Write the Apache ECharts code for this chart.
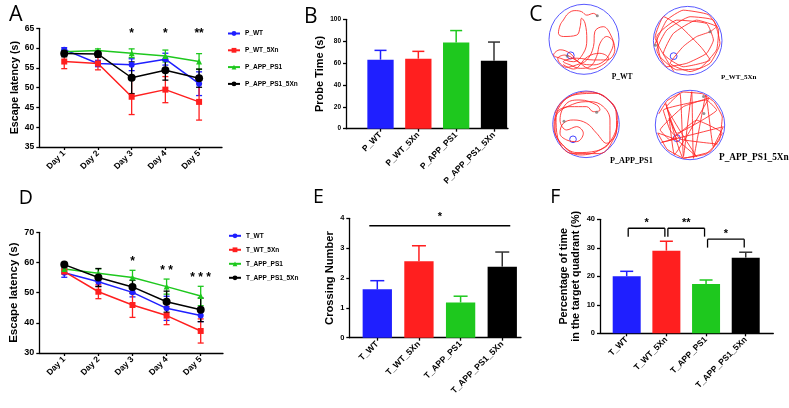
<!DOCTYPE html>
<html><head><meta charset="utf-8">
<script src="https://cdn.jsdelivr.net/npm/echarts@6/dist/echarts.min.js"></script>
<style>html,body{margin:0;padding:0;background:#fff}#c{width:789px;height:408px}</style>
</head><body><div id="c"></div>
<script>
// ---------------- DATA ----------------
const days = ['Day 1','Day 2','Day 3','Day 4','Day 5'];
const probeGroups = ['P_WT','P_WT_5Xn','P_APP_PS1','P_APP_PS1_5Xn'];
const trainGroups = ['T_WT','T_WT_5Xn','T_APP_PS1','T_APP_PS1_5Xn'];

// Panel A: probe-phase escape latency (s), mean and SEM
const pWT        = [59.6, 56.1, 55.8, 57.2, 51.0];
const pWTErr     = [0.5, 0.8, 1.5, 1.5, 3.0];
const pWT5Xn     = [56.6, 56.1, 47.7, 49.5, 46.4];
const pWT5XnErr  = [1.8, 1.6, 4.5, 3.3, 4.6];
const pAPP       = [59.1, 59.4, 58.7, 58.0, 56.6];
const pAPPErr    = [0.4, 0.4, 1.1, 1.5, 2.0];
const pAPP5Xn    = [58.6, 58.5, 52.5, 54.4, 52.4];
const pAPP5XnErr = [0.8, 0.8, 4.0, 2.5, 2.3];
const starsA     = ['', '', '*', '*', '**'];

// Panel B: probe time (s)
const probeTime    = [63.1, 64.0, 78.7, 62.2];
const probeTimeErr = [8.5, 6.7, 11.0, 17.0];

// Panel D: training escape latency (s)
const tWT        = [56.6, 53.6, 50.1, 44.8, 42.4];
const tWTErr     = [1.5, 1.5, 1.5, 4.0, 2.0];
const tWT5Xn     = [57.0, 50.3, 45.9, 42.4, 37.3];
const tWT5XnErr  = [0.8, 2.3, 4.1, 3.0, 4.0];
const tAPP       = [57.8, 56.4, 55.0, 52.0, 48.9];
const tAPPErr    = [0.5, 1.5, 2.4, 2.5, 3.2];
const tAPP5Xn    = [59.3, 55.0, 51.9, 47.0, 44.3];
const tAPP5XnErr = [0.5, 3.0, 2.2, 3.5, 3.9];
const starsD     = ['', '', '*', '* *', '* * *'];

// Panel E: crossing number
const crossing    = [1.62, 2.56, 1.18, 2.38];
const crossingErr = [0.29, 0.52, 0.21, 0.49];
const sigE = [[0, 3, '*']];

// Panel F: percentage of time in target quadrant (%)
const quadrant    = [20.0, 29.0, 17.3, 26.55];
const quadrantErr = [1.75, 3.3, 1.4, 1.9];
const sigF = [[0, 1, '*'], [1, 2, '**'], [2, 3, '*']];

// Panel C: swim trajectories (arena units, radius 100, y up)
const trackLabels = ['P_WT', 'P_WT_5Xn', 'P_APP_PS1', 'P_APP_PS1_5Xn'];
const platforms = [[-38,-46], [-41,-45], [-39,-45], [-38,-38]];
const startDots = [[[38,67],[-48,-48]], [[65,26],[-94,-13]], [[32,36],[-66,9]], [[39,82],[40,33]]];
const trackWT = [[38,67],[27,74],[8,69],[-7,79],[-26,82],[-45,74],[-59,55],[-68,41],[-73,17],[-59,8],[-21,12],[-11,36],[-7,60],[3,46],[8,-2],[-2,-40],[-30,-64],[-68,-54],[-87,-45],[-68,-30],[-40,-40],[-11,-68],[27,-73],[55,-64],[74,-40],[84,-11],[65,8],[46,-11],[36,-49],[17,-78],[-11,-83],[-40,-73],[-59,-64],[-21,-54],[27,-59],[65,-59],[88,-30],[74,17],[55,36],[31,22],[27,-21],[8,-59],[-21,-73],[-50,-80],[-75,-55],[-55,-45],[-20,-62],[20,-85],[50,-75],[70,-55],[45,-40],[10,-50],[-30,-85],[-60,-72]];
const trackWT5Xn = [[-97,-13],[-61,60],[-13,89],[60,76],[90,30],[84,-27],[36,-80],[-32,-85],[-80,-47],[-90,12],[-32,60],[55,50],[75,2],[55,-37],[-3,-66],[-61,-76],[-90,-27],[-61,31],[7,70],[75,60],[94,-8],[65,-66],[7,-90],[-51,-66],[-13,-17],[26,12],[65,26],[84,41],[26,60],[-42,21],[-71,-37],[-13,-76],[65,-56],[40,-20],[-20,40],[-70,70],[-95,10],[-40,-90]];
const trackAPP = [[-93,33],[-72,68],[-27,90],[30,93],[74,66],[94,22],[82,-37],[42,-77],[-18,-92],[-67,-66],[-93,-17],[-88,33],[-48,53],[2,53],[22,38],[42,43],[32,58],[-18,73],[-58,63],[-78,13],[-58,-17],[-28,-7],[-8,-27],[-28,-52],[-58,-47],[-78,-27],[-68,3],[-38,13],[2,3],[32,-27],[62,-57],[92,-17],[90,40],[63,77],[12,97],[-46,85],[-82,49],[-96,-7],[-76,-55],[-27,-85],[31,-80],[72,-47],[72,13],[52,53],[12,68],[-40,60],[-90,20],[-85,-40],[-40,-88],[40,-88],[85,-40],[95,10]];
const trackAPP5Xn = [[-90,32],[-66,70],[-19,95],[36,90],[70,66],[93,23],[85,-43],[46,-84],[-19,-95],[-66,-70],[-93,-23],[-38,-43],[19,-91],[-67,53],[-29,91],[-19,-91],[5,96],[10,-96],[46,86],[67,-62],[96,-5],[-82,-50],[-38,-38],[-58,-14],[-77,43],[48,72],[77,43],[-38,-24],[-70,62],[-19,-96],[58,-77],[93,-23],[19,14],[-58,-43],[-86,-14],[-19,53],[55,78],[-45,-85],[-60,20],[-30,-40],[80,-55]];
const tracks = [trackWT, trackWT5Xn, trackAPP, trackAPP5Xn];
const trackSmooth = [0.4, 0.15, 0.4, 0.1];

// ---------------- STYLE ----------------
const FONT = "'Liberation Sans', Arial, sans-serif";
const BLUE = '#1f1fff', RED = '#ff1f1f', GREEN = '#1ec81e', BLACK = '#000000';
const groupColors = [BLUE, RED, GREEN, BLACK];
const symbols = ['circle', 'rect', 'triangle', 'circle'];
const symbolSizes = [6, 6, 6, 8];
const AX = {color: '#000', width: 1.3};

function lineXAxis(grid, min, max) {
  return {gridIndex: grid, type: 'value', min: min, max: max,
    axisLine: {show: true, onZero: false, lineStyle: AX},
    axisTick: {show: true, customValues: days.map((d, i) => i + 1), length: 3, lineStyle: AX},
    axisLabel: {customValues: days.map((d, i) => i + 1), formatter: v => days[Math.round(v) - 1],
      rotate: 45, margin: 5, fontSize: 8.5, fontWeight: 'bold', color: '#000', fontFamily: FONT},
    splitLine: {show: false}};
}
function barXAxis(grid, min, max, names, fs) {
  return {gridIndex: grid, type: 'value', min: min, max: max,
    axisLine: {show: true, onZero: false, lineStyle: AX},
    axisTick: {show: true, customValues: names.map((d, i) => i + 1), length: 3, lineStyle: AX},
    axisLabel: {customValues: names.map((d, i) => i + 1), formatter: v => names[Math.round(v) - 1],
      rotate: 45, margin: 5, fontSize: fs, fontWeight: 'bold', color: '#000', fontFamily: FONT},
    splitLine: {show: false}};
}
function valYAxis(grid, min, max, interval, name, nameGap, nameSize, labelSize) {
  return {gridIndex: grid, type: 'value', min: min, max: max, interval: interval,
    axisLine: {show: true, onZero: false, lineStyle: AX},
    axisTick: {show: true, length: 3, lineStyle: AX},
    axisLabel: {margin: 5, fontSize: labelSize, fontWeight: 'bold', color: '#000', fontFamily: FONT},
    splitLine: {show: false},
    name: name, nameLocation: 'middle', nameGap: nameGap,
    nameTextStyle: {fontSize: nameSize, fontWeight: 'bold', color: '#000', fontFamily: FONT, lineHeight: nameSize * 1.1}};
}
function hiddenAxis(grid) {
  return {gridIndex: grid, type: 'value', min: -100, max: 100, show: false};
}

function errorSeries(axisIdx, means, errs, color, capHalf, upOnly, lw) {
  return {type: 'custom', xAxisIndex: axisIdx, yAxisIndex: axisIdx, z: 2, silent: true,
    data: means.map((m, i) => [i + 1, m, errs[i]]),
    encode: {x: 0, y: 1},
    renderItem: function (params, api) {
      const x = api.value(0), m = api.value(1), e = api.value(2);
      const top = api.coord([x, m + e]);
      const bot = api.coord([x, upOnly ? m : m - e]);
      const col = color || (params.dataIndex === 3 ? '#333' : groupColors[params.dataIndex]);
      const st = {stroke: col, lineWidth: lw};
      const ch = [
        {type: 'line', shape: {x1: top[0], y1: top[1], x2: bot[0], y2: bot[1]}, style: st},
        {type: 'line', shape: {x1: top[0] - capHalf, y1: top[1], x2: top[0] + capHalf, y2: top[1]}, style: st}
      ];
      if (!upOnly) ch.push({type: 'line', shape: {x1: bot[0] - capHalf, y1: bot[1], x2: bot[0] + capHalf, y2: bot[1]}, style: st});
      return {type: 'group', children: ch};
    }};
}
function lineSeries(axisIdx, name, values, gi) {
  return {type: 'line', name: name, xAxisIndex: axisIdx, yAxisIndex: axisIdx, z: 3,
    data: values.map((v, i) => [i + 1, v]),
    symbol: symbols[gi], symbolSize: symbolSizes[gi], showSymbol: true,
    lineStyle: {color: groupColors[gi], width: 1.5}, itemStyle: {color: groupColors[gi]}};
}
function barSeries(axisIdx, values, width) {
  return {type: 'bar', xAxisIndex: axisIdx, yAxisIndex: axisIdx, barWidth: width, z: 1,
    data: values.map((v, i) => ({value: [i + 1, v], itemStyle: {color: groupColors[i]}}))};
}
function starSeries(axisIdx, stars, levelFn, pxOffset, fs) {
  return {type: 'custom', xAxisIndex: axisIdx, yAxisIndex: axisIdx, z: 5, silent: true,
    data: stars.map((s, i) => [i + 1, levelFn(i)]),
    encode: {x: 0, y: 1},
    renderItem: function (params, api) {
      const p = api.coord([api.value(0), api.value(1)]);
      return {type: 'text', x: p[0], y: p[1] + pxOffset,
        style: {text: stars[params.dataIndex], fill: '#000', font: 'bold ' + fs + 'px ' + FONT, align: 'center', verticalAlign: 'middle'}};
    }};
}
function sigSeries(axisIdx, pairs, means, errs, rise, leg, starGap, inset, extend) {
  return {type: 'custom', xAxisIndex: axisIdx, yAxisIndex: axisIdx, z: 5, silent: true,
    data: pairs.map(p => [p[0] + 1, p[1] + 1]),
    encode: {x: [0, 1]},
    renderItem: function (params, api) {
      const pr = pairs[params.dataIndex];
      let topPx = Infinity;
      for (let k = pr[0]; k <= pr[1]; k++) topPx = Math.min(topPx, api.coord([k + 1, means[k] + errs[k]])[1]);
      const y = topPx - rise;
      const x1 = api.coord([pr[0] + 1, 0])[0] + inset - extend;
      const x2 = api.coord([pr[1] + 1, 0])[0] - inset + extend;
      const st = {stroke: '#000', lineWidth: 1.3};
      const ch = [{type: 'line', shape: {x1: x1, y1: y, x2: x2, y2: y}, style: st}];
      if (leg > 0) {
        ch.push({type: 'line', shape: {x1: x1, y1: y, x2: x1, y2: y + leg}, style: st});
        ch.push({type: 'line', shape: {x1: x2, y1: y, x2: x2, y2: y + leg}, style: st});
      }
      ch.push({type: 'text', x: (x1 + x2) / 2, y: y - starGap,
        style: {text: pr[2], fill: '#000', font: 'bold 11px ' + FONT, align: 'center', verticalAlign: 'middle'}});
      return {type: 'group', children: ch};
    }};
}
function arenaSeries(axisIdx, k) {
  return {type: 'custom', xAxisIndex: axisIdx, yAxisIndex: axisIdx, z: 1, silent: true,
    data: [platforms[k]], encode: {x: 0, y: 1},
    renderItem: function (params, api) {
      const c = api.coord([0, 0]);
      const r = api.size([100, 100])[0];
      const p = api.coord([api.value(0), api.value(1)]);
      const pr = api.size([10, 10])[0];
      return {type: 'group', children: [
        {type: 'circle', shape: {cx: c[0], cy: c[1], r: r}, style: {fill: 'none', stroke: '#5a5aff', lineWidth: 1}},
        {type: 'circle', shape: {cx: p[0], cy: p[1], r: pr}, style: {fill: 'none', stroke: '#4444ff', lineWidth: 1}}
      ]};
    }};
}

// ---------------- OPTION ----------------
const grids = [
  {left: 39.3, top: 28.3, width: 182.7, height: 118.7},   // A
  {left: 346, top: 19.3, width: 162, height: 109.4},      // B
  {left: 39.3, top: 232.3, width: 183.7, height: 120.7},  // D
  {left: 349.3, top: 218.3, width: 171.7, height: 119.4}, // E
  {left: 600, top: 219.3, width: 173.3, height: 114},     // F
  {left: 549, top: 4.3, width: 70, height: 70},           // C1
  {left: 653.4, top: 6.4, width: 68.6, height: 68.6},     // C2
  {left: 552.7, top: 91, width: 66.6, height: 66.6},      // C3
  {left: 655.3, top: 90.3, width: 69.4, height: 69.4}     // C4
].map(g => Object.assign({containLabel: false, outerBoundsMode: 'none'}, g));

const xAxes = [
  lineXAxis(0, 0.26, 5.68),
  barXAxis(1, 0.088, 4.37, probeGroups, 8.5),
  lineXAxis(2, 0.267, 5.654),
  barXAxis(3, 0.328, 4.45, trainGroups, 8.7),
  barXAxis(4, 0.327, 4.695, trainGroups, 8.5),
  hiddenAxis(5), hiddenAxis(6), hiddenAxis(7), hiddenAxis(8)
];
const yAxes = [
  valYAxis(0, 35, 65, 5, 'Escape latency (s)', 10.5, 10.7, 8.5),
  valYAxis(1, 0, 100, 20, 'Probe Time (s)', 8, 11, 6.5),
  valYAxis(2, 30, 70, 10, 'Escape latency (s)', 12, 11.5, 9),
  valYAxis(3, 0, 4, 1, 'Crossing Number', 13.5, 11.2, 7.5),
  valYAxis(4, 0, 40, 10, 'Percentage of time\nin the target quadrant (%)', 18, 10.8, 7.5),
  hiddenAxis(5), hiddenAxis(6), hiddenAxis(7), hiddenAxis(8)
];

const series = [];
const aVals = [pWT, pWT5Xn, pAPP, pAPP5Xn], aErrs = [pWTErr, pWT5XnErr, pAPPErr, pAPP5XnErr];
aVals.forEach((v, gi) => series.push(errorSeries(0, v, aErrs[gi], groupColors[gi], 3, false, 1.3)));
aVals.forEach((v, gi) => series.push(lineSeries(0, probeGroups[gi], v, gi)));
series.push(starSeries(0, starsA, i => 65, 5, 12));

const dVals = [tWT, tWT5Xn, tAPP, tAPP5Xn], dErrs = [tWTErr, tWT5XnErr, tAPPErr, tAPP5XnErr];
dVals.forEach((v, gi) => series.push(errorSeries(2, v, dErrs[gi], groupColors[gi], 3, false, 1.3)));
dVals.forEach((v, gi) => series.push(lineSeries(2, trainGroups[gi], v, gi)));
series.push(starSeries(2, starsD, i => Math.max(...dVals.map((v, g) => v[i] + dErrs[g][i])), -8.5, 12));

series.push(barSeries(1, probeTime, 26.3));
series.push(errorSeries(1, probeTime, probeTimeErr, null, 6, true, 1.5));

series.push(barSeries(3, crossing, 29.3));
series.push(errorSeries(3, crossing, crossingErr, null, 7, true, 1.5));
series.push(sigSeries(3, sigE, crossing, crossingErr, 20, 0, 8.5, 0, 8));

series.push(barSeries(4, quadrant, 28));
series.push(errorSeries(4, quadrant, quadrantErr, null, 6.5, true, 1.5));
series.push(sigSeries(4, sigF, quadrant, quadrantErr, 13, 8.4, 5.5, 1.5, 0));

tracks.forEach((t, k) => {
  series.push(arenaSeries(5 + k, k));
  series.push({type: 'line', xAxisIndex: 5 + k, yAxisIndex: 5 + k, z: 2, silent: true,
    data: t, smooth: trackSmooth[k], showSymbol: false, symbol: 'none',
    lineStyle: {color: '#ff2424', width: 0.85}});
  series.push({type: 'scatter', xAxisIndex: 5 + k, yAxisIndex: 5 + k, z: 3, silent: true,
    data: startDots[k], symbolSize: 3, itemStyle: {color: '#777'}});
});

const legendBase = {orient: 'vertical', itemWidth: 12, itemHeight: 6, selectedMode: false,
  textStyle: {fontSize: 6.5, fontWeight: 'bold', color: '#000', fontFamily: FONT}, padding: 0};
const legends = [
  Object.assign({}, legendBase, {data: probeGroups, left: 227, top: 30, itemGap: 9.8}),
  Object.assign({}, legendBase, {data: trainGroups, left: 228, top: 232.3, itemGap: 7})
];

const panelLetters = [['A', 15.8, 15, 21.5], ['B', 310.8, 17.5, 21], ['C', 535.8, 15, 21],
  ['D', 25.8, 198.7, 19.5], ['E', 318.3, 197.2, 19.5], ['F', 555.2, 197, 19.5]];
const trackLabelPos = [[611.7, 77.5, 7.5], [721, 77.5, 7], [610, 160.5, 8.2], [719, 157.5, 9.3]];
const graphics = panelLetters.map(p => ({type: 'text', x: p[1], y: p[2],
  style: {text: p[0], font: p[3] + "px 'Open Sans', 'Liberation Sans', sans-serif", fill: '#000', align: 'center', verticalAlign: 'middle'}}))
  .concat(trackLabels.map((t, k) => ({type: 'text', x: trackLabelPos[k][0], y: trackLabelPos[k][1],
    style: {text: t, font: 'bold ' + trackLabelPos[k][2] + "px 'Liberation Serif', serif", fill: '#000', align: 'left', verticalAlign: 'middle'}})));

const chart = echarts.init(document.getElementById('c'), null, {renderer: 'canvas', width: 789, height: 408});
chart.setOption({
  animation: false,
  backgroundColor: '#fff',
  grid: grids,
  xAxis: xAxes,
  yAxis: yAxes,
  legend: legends,
  series: series,
  graphic: graphics
});
</script></body></html>
